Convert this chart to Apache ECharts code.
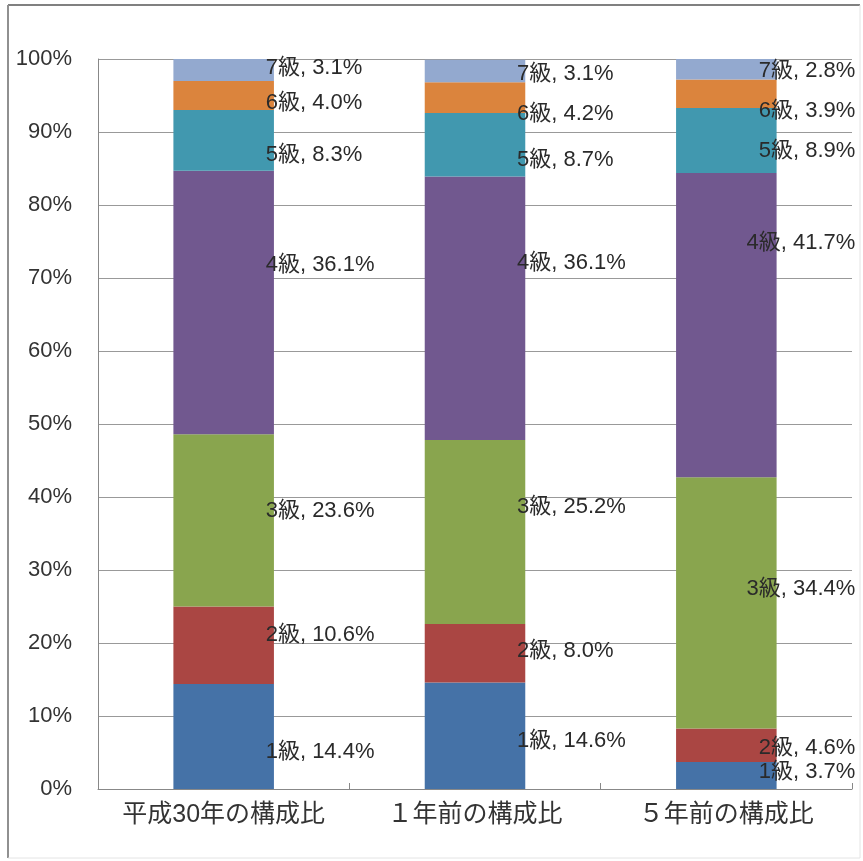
<!DOCTYPE html>
<html>
<head>
<meta charset="utf-8">
<script src="https://cdn.jsdelivr.net/npm/echarts@6/dist/echarts.min.js"></script>
<style>
  html, body { margin: 0; padding: 0; background: #fff; }
  #chart { width: 863px; height: 861px; }
</style>
</head>
<body>
<div id="chart"></div>
<script>
// Categories (x axis)
const categories = ['平成30年の構成比', '１年前の構成比', '５年前の構成比'];
// Grade names, bottom to top of each stack
const grades = ['1級', '2級', '3級', '4級', '5級', '6級', '7級'];
// Share (%) of each grade per category
const grade1 = [14.4, 14.6, 3.7];
const grade2 = [10.6, 8.0, 4.6];
const grade3 = [23.6, 25.2, 34.4];
const grade4 = [36.1, 36.1, 41.7];
const grade5 = [8.3, 8.7, 8.9];
const grade6 = [4.0, 4.2, 3.9];
const grade7 = [3.1, 3.1, 2.8];
// Y axis ticks
const yTicks = [0, 10, 20, 30, 40, 50, 60, 70, 80, 90, 100];

const seriesValues = [grade1, grade2, grade3, grade4, grade5, grade6, grade7];
const colors = ['#4572A7', '#AA4643', '#89A54E', '#71588F', '#4198AF', '#DB843D', '#93A9CF'];

// Vertical label nudges (px) per grade, per category: the labels were
// hand-placed in the original layout rather than exactly centred.
const labelNudgeY = [
  [15, 5, -4],
  [-10, -2, 3],
  [-9, -25, -14],
  [-38, -45, -82],
  [15, 15, 11],
  [7, 16, 17],
  [-2, 3, 2]
];

const font = '"Liberation Sans", Arial, "Noto Sans CJK JP", sans-serif';

const series = grades.map((name, si) => ({
  name,
  type: 'bar',
  stack: 'total',
  barWidth: '40%',
  itemStyle: { color: colors[si] },
  data: seriesValues[si].map((v, ci) => ({
    value: v,
    label: ci === 2
      ? { align: 'right', offset: [129, labelNudgeY[si][ci]] }
      : { align: 'left', offset: [42, labelNudgeY[si][ci]] }
  })),
  label: {
    show: true,
    position: 'inside',
    color: '#2a2a2a',
    fontSize: 22,
    fontFamily: font,
    formatter: p => `${p.seriesName}, ${p.value.toFixed(1)}%`
  }
}));

const chart = echarts.init(document.getElementById('chart'), null, { renderer: 'canvas' });
chart.setOption({
  animation: false,
  backgroundColor: '#fff',
  grid: { left: 98, right: 11, top: 59, bottom: 72 },
  xAxis: {
    type: 'category',
    data: categories,
    axisLine: { lineStyle: { color: '#888', width: 1 } },
    axisTick: { show: true, inside: true, length: 6, lineStyle: { color: '#888' } },
    axisLabel: {
      color: '#333', fontSize: 25, fontFamily: font, margin: 14,
      interval: 0, hideOverlap: false
    }
  },
  yAxis: {
    type: 'value',
    min: yTicks[0],
    max: yTicks[yTicks.length - 1],
    interval: yTicks[1] - yTicks[0],
    axisLine: { show: true, lineStyle: { color: '#888' } },
    axisTick: { show: false },
    splitLine: { lineStyle: { color: '#999', width: 1 } },
    axisLabel: { color: '#333', fontSize: 22, fontFamily: font, margin: 26, formatter: v => v + '%' }
  },
  graphic: [
    { type: 'line', shape: { x1: 8, y1: 5, x2: 860, y2: 5 }, style: { stroke: '#808080', lineWidth: 2 } },
    { type: 'line', shape: { x1: 8, y1: 5, x2: 8, y2: 858 }, style: { stroke: '#909090', lineWidth: 2 } },
    { type: 'line', shape: { x1: 860, y1: 5, x2: 860, y2: 858 }, style: { stroke: '#e4e4e4', lineWidth: 1 } },
    { type: 'line', shape: { x1: 8, y1: 858, x2: 860, y2: 858 }, style: { stroke: '#e4e4e4', lineWidth: 1 } }
  ],
  series
});
</script>
</body>
</html>
